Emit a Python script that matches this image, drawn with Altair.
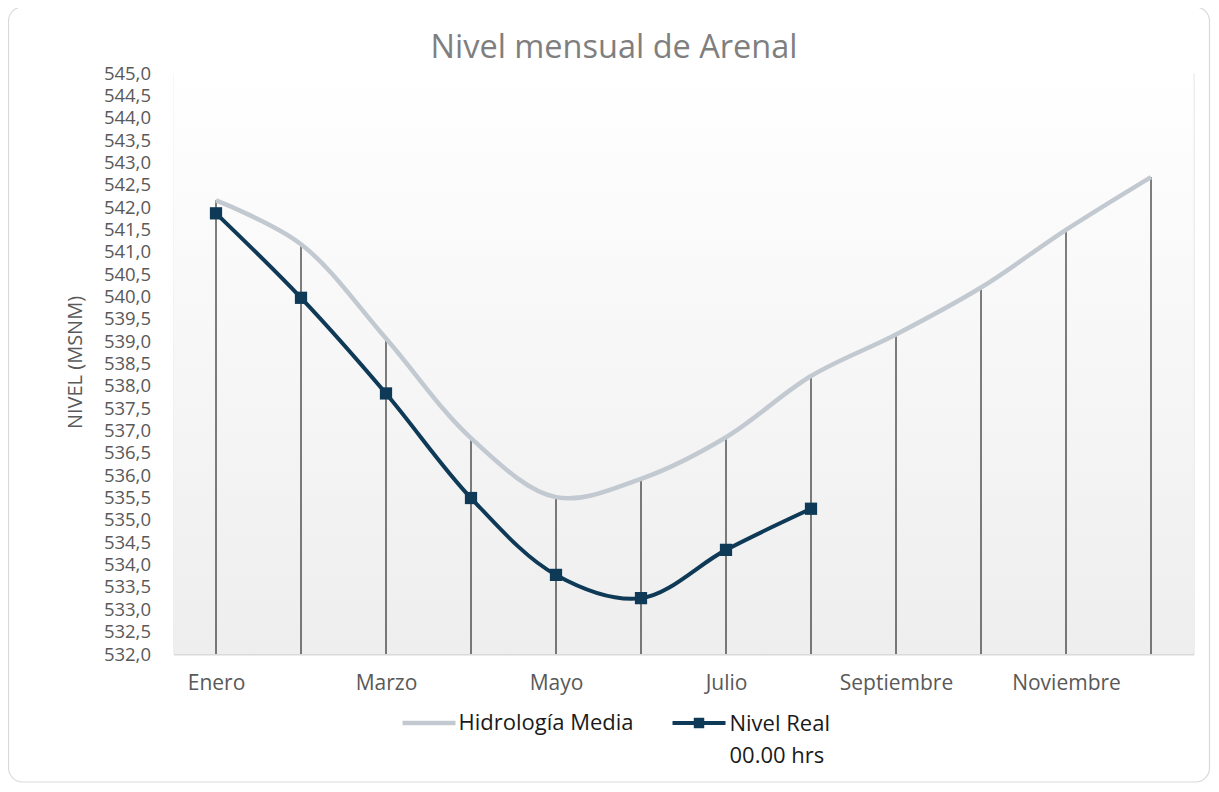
import altair as alt
import pandas as pd

months = ["Enero", "Febrero", "Marzo", "Abril", "Mayo", "Junio", "Julio",
          "Agosto", "Septiembre", "Octubre", "Noviembre", "Diciembre"]
hidrologia_media = [542.15, 541.17, 539.06, 536.83, 535.51, 535.92, 536.85,
                    538.22, 539.15, 540.20, 541.49, 542.67]
nivel_real = [541.86, 539.97, 537.83, 535.49, 533.77, 533.25, 534.33, 535.25,
              None, None, None, None]
x_labels = ["Enero", "Marzo", "Mayo", "Julio", "Septiembre", "Noviembre"]
y_ticks = [532.0, 532.5, 533.0, 533.5, 534.0, 534.5, 535.0, 535.5, 536.0, 536.5,
           537.0, 537.5, 538.0, 538.5, 539.0, 539.5, 540.0, 540.5, 541.0, 541.5,
           542.0, 542.5, 543.0, 543.5, 544.0, 544.5, 545.0]
y_min, y_max = 532.0, 545.0
title_text = "Nivel mensual de Arenal"

FONT = "Open Sans"
W, H = 1020, 581
HID_COLOR = "#c2c9d1"
REAL_COLOR = "#0f3a57"

df = pd.DataFrame({"mes": months, "hid": hidrologia_media, "real": nivel_real})
df_real = df.dropna(subset=["real"])
one = pd.DataFrame({"k": [0]})

x_scale = alt.Scale(type="point", domain=months, padding=0.5)
y_scale = alt.Scale(domain=[y_min, y_max], nice=False, zero=False)

x_enc = alt.X("mes:N", scale=x_scale, sort=months, title=None,
              axis=alt.Axis(values=x_labels, ticks=False, grid=False, labelAngle=0,
                            domainColor="#d9d9d9", domainWidth=2,
                            labelFont=FONT, labelFontSize=21, labelColor="#595959",
                            labelPadding=18))

y_axis = alt.Axis(values=y_ticks, grid=False, ticks=False, domain=False,
                  labelOverlap=False, labelBound=False,
                  labelExpr="replace(format(datum.value, '.1f'), '.', ',')",
                  labelFont=FONT, labelFontSize=18.5, labelColor="#595959",
                  labelPadding=23,
                  titleFont=FONT, titleFontSize=20, titleColor="#595959",
                  titleFontWeight="normal", titleAngle=-90,
                  titleX=-98, titleY=289, titleAlign="center",
                  titleBaseline="middle")

bg = alt.Chart(one).mark_rect(
    color=alt.Gradient(gradient="linear", x1=0, y1=0, x2=0, y2=1,
                       stops=[alt.GradientStop(offset=0, color="#ffffff"),
                              alt.GradientStop(offset=1, color="#eeeeee")])
).encode(x=alt.value(0), x2=alt.value(W), y=alt.value(0), y2=alt.value(H))

drops = alt.Chart(df).mark_rule(color="#000000", strokeWidth=1).encode(
    x=x_enc,
    y=alt.Y("hid:Q", scale=y_scale, title="NIVEL (MSNM)", axis=y_axis),
    y2=alt.datum(y_min),
)

hid_line = alt.Chart(df).mark_line(color=HID_COLOR, strokeWidth=4.5,
                                   interpolate="catmull-rom").encode(
    x=x_enc, y=alt.Y("hid:Q", scale=y_scale, title="NIVEL (MSNM)", axis=y_axis))

real_line = alt.Chart(df_real).mark_line(color=REAL_COLOR, strokeWidth=4,
                                         interpolate="catmull-rom").encode(
    x=x_enc, y=alt.Y("real:Q", scale=y_scale, title="NIVEL (MSNM)", axis=y_axis))

real_pts = alt.Chart(df_real).mark_point(shape="square", filled=True, opacity=1,
                                         color=REAL_COLOR, size=150).encode(
    x=x_enc, y=alt.Y("real:Q", scale=y_scale, title="NIVEL (MSNM)", axis=y_axis))

# Title as text (centered on the whole chart)
title_mark = alt.Chart(one).mark_text(
    text=title_text, align="center", baseline="middle", font=FONT,
    fontSize=32.5, color="#7f7f7f").encode(x=alt.value(440.5), y=alt.value(-25))

# Legend (decoration, drawn in pixel space below the plot)
leg_hid_line = alt.Chart(one).mark_rule(color=HID_COLOR, strokeWidth=4.5).encode(
    x=alt.value(229), x2=alt.value(282), y=alt.value(650))
leg_hid_text = alt.Chart(one).mark_text(
    text="Hidrología Media", align="left", baseline="middle", font=FONT,
    fontSize=22, color="#1a1a1a").encode(x=alt.value(285), y=alt.value(650))
leg_real_line = alt.Chart(one).mark_rule(color=REAL_COLOR, strokeWidth=4).encode(
    x=alt.value(499), x2=alt.value(552), y=alt.value(650))
leg_real_pt = alt.Chart(one).mark_point(shape="square", filled=True, opacity=1,
                                        color=REAL_COLOR, size=110).encode(
    x=alt.value(525.5), y=alt.value(650))
leg_real_text = alt.Chart(one).mark_text(
    text=["Nivel Real", "00.00 hrs"], align="left", baseline="middle", font=FONT,
    fontSize=22, color="#1a1a1a", lineHeight=32).encode(
    x=alt.value(556), y=alt.value(651))

border = alt.Chart(one).mark_rect(fill=None, stroke="#d9d9d9", strokeWidth=1.2,
                                  cornerRadius=14).encode(
    x=alt.value(-165), x2=alt.value(1036), y=alt.value(-66), y2=alt.value(709))

chart = alt.layer(
    bg, drops, hid_line, real_line, real_pts, title_mark,
    leg_hid_line, leg_hid_text, leg_real_line, leg_real_pt, leg_real_text, border
).properties(
    width=W, height=H,
    autosize=alt.AutoSizeParams(type="none"),
    padding={"left": 165.5, "top": 65, "right": 17.5, "bottom": 130},
).configure_view(stroke=None).configure(
    background="#ffffff"
).configure_axisY(labelOverlap=False)

chart.save("out.html", embed_options={"renderer": "svg", "actions": False})
